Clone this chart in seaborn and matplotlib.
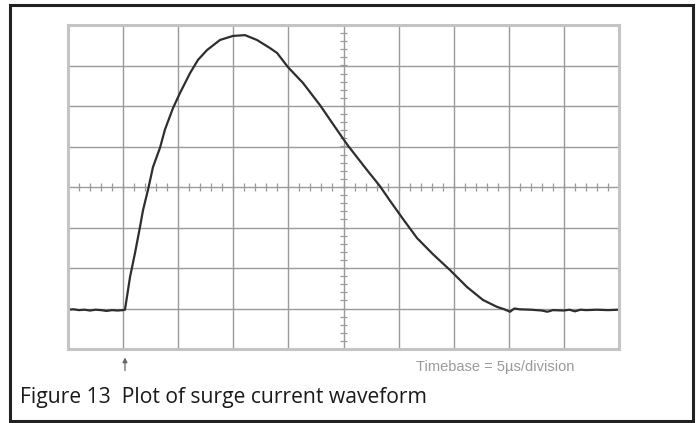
import numpy as np
import pandas as pd
import matplotlib
matplotlib.use("Agg")
import matplotlib.pyplot as plt
import seaborn as sns
from matplotlib.patches import Rectangle

# time in microseconds (5 us per division), current in screen divisions
time_us = [0.0, 0.5, 1.0, 1.5, 2.0, 2.5, 3.0, 3.5, 4.0, 4.5, 5.0, 5.17,
           5.63, 6.08, 6.53, 6.81, 7.26, 7.71, 8.35, 8.80, 9.53, 10.16,
           11.07, 11.80, 12.61, 13.79, 14.97, 16.06, 17.15, 18.33, 18.97,
           19.96, 21.32, 22.87, 24.41, 25.41, 27.13, 28.31, 29.22, 30.40,
           31.67, 33.12, 34.66, 36.21, 37.66, 38.93, 39.6, 40.11, 40.5,
           41.0, 42.0, 43.0, 43.5, 44.0, 45.0, 45.5, 46.0, 46.5, 47.0,
           48.0, 49.0, 50.0]
current_div = [0.97, 0.98, 0.96, 0.97, 0.95, 0.97, 0.96, 0.94, 0.96, 0.95, 0.96, 0.97,
               1.78, 2.37, 3.01, 3.43, 3.93, 4.49, 4.97, 5.42, 5.95, 6.32,
               6.81, 7.14, 7.38, 7.63, 7.73, 7.75, 7.63, 7.43, 7.31,
               6.96, 6.57, 6.02, 5.41, 5.02, 4.42, 4.02, 3.66, 3.21,
               2.74, 2.34, 1.95, 1.53, 1.21, 1.04, 0.98, 0.92, 1.00,
               0.98, 0.97, 0.95, 0.92, 0.96, 0.95, 0.97, 0.93, 0.97, 0.96,
               0.97, 0.96, 0.97]

caption = "Figure 13  Plot of surge current waveform"
timebase = "Timebase = 5\u00b5s/division"

df = pd.DataFrame({"t": time_us, "i": current_div})

fig = plt.figure(figsize=(6.99, 4.23), dpi=100)
ax = fig.add_axes([68 / 699, 1 - 349 / 423, 551 / 699, 324 / 423])

grid_col = "#9a9a9a"
ax.set_xlim(0, 50)
ax.set_ylim(0, 8)
ax.set_xticks(np.arange(0, 51, 5))
ax.set_yticks(np.arange(0, 9, 1))
ax.tick_params(length=0, labelbottom=False, labelleft=False)
ax.grid(True, color=grid_col, lw=1.0)
for s in ax.spines.values():
    s.set_color("#c4c4c4")
    s.set_linewidth(2.2)

# centre graticule tick marks
for xm in np.arange(1, 50, 1):
    ax.vlines(xm, 4 - 0.1, 4 + 0.1, color=grid_col, lw=0.9)
for ym in np.arange(0.2, 8, 0.2):
    ax.hlines(ym, 25 - 0.35, 25 + 0.35, color=grid_col, lw=0.9)

sns.lineplot(data=df, x="t", y="i", ax=ax, color="#2e2e2e", lw=1.6)
ax.set_xlabel("")
ax.set_ylabel("")

# trigger arrow under 5 us
ax.annotate("", xy=(5.17, -0.14), xytext=(5.17, -0.6),
            xycoords="data", annotation_clip=False,
            arrowprops=dict(arrowstyle="-|>", color="#666666", lw=0.9,
                            mutation_scale=7))

fig.text(495 / 699, 1 - 367 / 423, timebase, ha="center", va="center",
         fontsize=10.5, color="#9a9a9a", family="Liberation Sans")
fig.text(20 / 699, 1 - 397 / 423, caption, ha="left", va="center",
         fontsize=15.2, color="#1a1a1a", family="Open Sans")

fig.patches.append(Rectangle((10 / 699, 1 - 421 / 423), 683 / 699, 416 / 423,
                             transform=fig.transFigure, fill=False,
                             edgecolor="#222222", lw=2.2))

fig.savefig("out.png", dpi=100)
